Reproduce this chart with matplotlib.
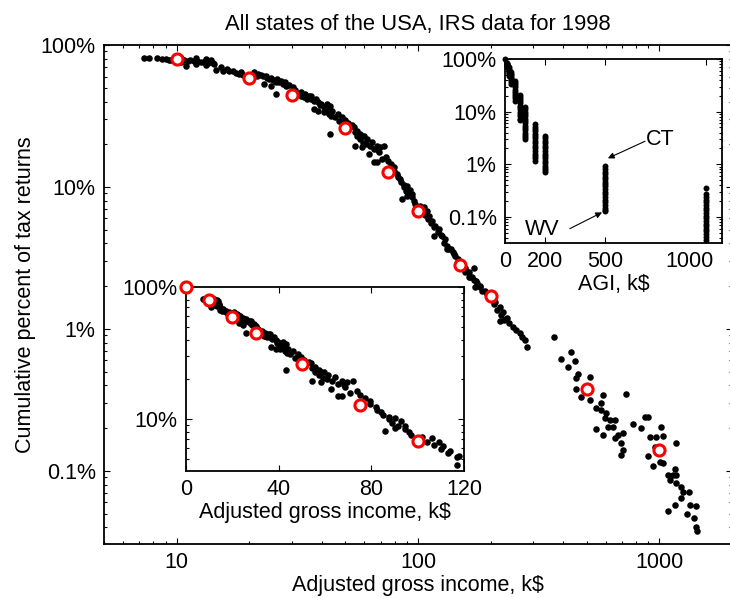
import matplotlib
matplotlib.use("Agg")
import numpy as np
import matplotlib.pyplot as plt
from matplotlib.ticker import FixedLocator, FixedFormatter, LogLocator, NullFormatter
from matplotlib.transforms import ScaledTranslation

plt.rcParams["font.family"] = ["Liberation Sans", "DejaVu Sans"]
plt.rcParams["font.size"] = 15.5

# per-state points: AGI (k$) vs cumulative percent of returns
main_agi = [
    7.3, 7.7, 8.3, 8.7, 9.0, 9.3, 9.5, 10.7, 11.1, 11.4, 11.8, 12.2, 12.6, 13.0, 13.5,
    14.1, 14.3, 10.9, 14.5, 15.5, 16.5, 17.1, 17.6, 18.1, 18.8, 12.0, 13.2, 10.4, 13.9,
    10.4, 12.0, 13.2, 15.2, 16.1, 18.5, 19.2,
    21.8, 22.8, 23.5, 24.2, 25.1, 25.9, 26.6, 27.7, 28.4, 23.0, 24.7, 25.9,
    20.9, 21.5, 22.4, 23.7, 24.7, 26.1, 27.1, 28.2, 29.3, 30.4, 31.0,
    31.9, 32.9, 33.8, 35.5, 36.2, 37.2, 38.7, 39.8, 41.8, 43.0, 36.9, 38.7, 40.6, 42.6,
    32.9, 34.1, 34.8, 36.2, 37.9, 39.1, 40.6, 42.2, 44.2, 46.4, 48.2, 49.6, 51.1, 53.1,
    43.8, 45.1, 46.9, 48.2, 43.0, 52.1, 54.1, 55.7, 57.3, 59.6, 61.3, 54.6, 58.4, 62.5,
    54.6, 58.4, 64.3, 67.5, 69.5, 72.2, 68.8, 65.6, 67.5, 70.8,
    55.7, 57.3, 59.0, 60.7, 63.1, 65.6, 68.1, 73.6, 75.0, 77.2,
    79.4, 81.8, 84.1, 87.5, 90.0, 92.6, 85.8, 90.0, 94.4, 96.2,
    79.4, 82.5, 85.0, 87.5, 89.1, 91.7, 94.4, 97.2,
    106, 109, 111, 114, 118, 122, 126, 130, 117, 135, 139, 143, 157, 163,
    102, 104, 107, 110, 113, 117, 121, 125, 128, 132, 137, 141, 147, 152, 156,
    132, 171, 157, 165, 171, 176, 181, 173, 185,
    162, 168, 174, 180, 190, 194, 203, 209, 218, 224, 233,
    207, 213, 220, 228, 218, 239, 247, 254, 264, 271, 277, 284, 365,
    430, 391, 447, 418, 460, 516, 451, 451, 473, 516, 584, 729, 573, 547, 573, 601, 596,
    625, 656, 613, 643, 547, 708, 675, 584, 656, 695, 708, 695,
    779, 841, 875, 900, 917, 971, 1019, 1040, 1177, 962, 900, 944, 1009, 1040,
    1090, 1144, 1177, 1166, 1112, 1177, 1224, 1259, 1321, 1224, 1166, 1090,
    1346, 1413, 1296, 1387, 1413, 1427,
]
main_pct = [
    81.0, 81.0, 81.0, 79.7, 79.7, 78.3, 78.3, 78.3, 77.1, 78.3, 77.1, 77.1, 75.9, 75.9, 74.6,
    74.6, 73.4, 71.1, 66.7, 65.6, 65.6, 65.6, 63.4, 62.4, 61.4, 81.0, 79.7, 81.0, 78.3,
    75.9, 73.4, 72.3, 69.9, 67.7, 64.5, 60.4,
    62.4, 60.4, 60.4, 57.5, 56.6, 54.8, 54.8, 53.1, 51.4, 53.1, 51.4, 45.1,
    64.5, 60.4, 61.4, 58.5, 58.5, 57.5, 55.7, 54.8, 52.2, 50.5, 48.1,
    45.1, 43.7, 42.9, 43.7, 41.6, 40.3, 39.6, 38.3, 38.3, 37.1, 35.3, 34.2, 33.7, 32.6,
    46.6, 45.1, 41.6, 43.7, 41.6, 37.7, 36.5, 35.3, 34.2, 32.6, 31.0, 29.6, 28.2, 27.2,
    31.6, 31.0, 29.1, 28.6, 23.5, 26.8, 26.4, 24.7, 23.5, 22.8, 21.7, 19.4, 19.1, 17.0,
    24.3, 22.8, 20.7, 19.4, 19.1, 19.4, 17.6, 14.9, 14.9, 15.7,
    22.8, 21.7, 20.3, 20.0, 19.4, 18.5, 18.2, 16.2, 15.2, 14.5,
    13.8, 12.3, 11.3, 10.4, 10.1, 9.6, 8.18, 8.6, 8.87, 7.93,
    12.9, 11.7, 10.8, 9.95, 9.33, 8.87, 8.46, 7.55,
    7.19, 6.74, 6.21, 5.73, 5.28, 5.03, 4.49, 4.28, 4.49, 3.63, 3.46, 3.24, 2.63, 2.34,
    7.31, 6.74, 6.31, 5.92, 5.55, 5.2, 4.79, 4.56, 4.01, 3.82, 3.63, 3.35, 3.09, 2.9, 2.71,
    3.63, 2.71, 2.54, 2.34, 2.23, 2.12, 1.99, 1.96, 1.84,
    2.5, 2.34, 2.16, 2.02, 1.84, 1.75, 1.61, 1.54, 1.42, 1.31, 1.20,
    1.49, 1.37, 1.26, 1.16, 1.13, 1.11, 1.04, 0.99, 0.94, 0.88, 0.841, 0.75, 0.88,
    0.692, 0.618, 0.598, 0.543, 0.485, 0.461, 0.454, 0.38, 0.333, 0.318, 0.344, 0.35, 0.303, 0.279, 0.27, 0.257, 0.237,
    0.23, 0.23, 0.205, 0.205, 0.198, 0.186, 0.18, 0.18, 0.171, 0.158, 0.141, 0.13,
    0.215, 0.201, 0.241, 0.241, 0.174, 0.174, 0.205, 0.177, 0.158, 0.148, 0.128, 0.109, 0.116, 0.114,
    0.094, 0.093, 0.094, 0.103, 0.0865, 0.0824, 0.0773, 0.0711, 0.0711, 0.0646, 0.0577, 0.0523,
    0.0577, 0.0567, 0.0498, 0.0467, 0.0403, 0.0375,
]

# all-state values at each AGI threshold
ring_agi = [0, 10, 20, 30, 50, 75, 100, 150, 200, 500, 1000]
ring_pct = [100, 79.5, 59, 44.5, 26, 12.8, 6.8, 2.8, 1.7, 0.38, 0.14]

# state values stacked at each threshold (linear-AGI inset)
thresholds = [0, 10, 20, 30, 50, 75, 100, 150, 200, 500, 1000]
state_pct = [
    [100],
    [85, 82, 80, 78, 76, 74, 72],
    [70, 66, 63, 60, 57, 54, 51, 48],
    [56, 52, 49, 46, 43, 40, 37, 34],
    [38, 35, 32, 29, 26, 24, 22, 20, 18, 16],
    [21, 19, 17.5, 16, 14.5, 13, 12, 11, 10, 9, 8.2, 7.4, 6.8],
    [12, 11, 10, 9, 8.2, 7.4, 6.7, 6, 5.4, 4.9, 4.4, 4, 3.6, 3.3, 3.0],
    [5.8, 5.2, 4.7, 4.2, 3.8, 3.4, 3.1, 2.8, 2.5, 2.25, 2.0, 1.8, 1.6, 1.45, 1.3, 1.16],
    [3.5, 3.1, 2.8, 2.5, 2.25, 2.0, 1.8, 1.6, 1.45, 1.3, 1.16, 1.04, 0.94, 0.85, 0.77, 0.7],
    [0.92, 0.8, 0.72, 0.65, 0.58, 0.52, 0.47, 0.42, 0.38, 0.34, 0.3, 0.27, 0.24, 0.21,
     0.19, 0.17, 0.15, 0.135, 0.127],
    [0.36, 0.27, 0.24, 0.21, 0.19, 0.17, 0.15, 0.135, 0.12, 0.105, 0.095, 0.085, 0.075,
     0.067, 0.06, 0.053, 0.047, 0.042, 0.037],
]


def pct_label(v):
    return f"{v:g}%"


def style(ax):
    for s in ax.spines.values():
        s.set_linewidth(1.3)
    ax.tick_params(which="both", direction="in", top=True, right=True, width=0.8)
    ax.tick_params(which="major", length=4, pad=6)
    ax.tick_params(which="minor", length=2.2)


def log_y(ax, ticks):
    ax.set_yscale("log")
    ax.yaxis.set_major_locator(FixedLocator(ticks))
    ax.yaxis.set_major_formatter(FixedFormatter([pct_label(t) for t in ticks]))
    ax.yaxis.set_minor_locator(LogLocator(base=10, subs=np.arange(2, 10)))
    ax.yaxis.set_minor_formatter(NullFormatter())


W, H = 730, 598
fig = plt.figure(figsize=(W / 100, H / 100), dpi=100)

# main log-log panel
ax = fig.add_axes([104 / W, 54 / H, 628 / W, 499 / H])
ax.plot(main_agi, main_pct, "o", color="k", ms=4.7, mew=0)
ax.plot(ring_agi[1:], ring_pct[1:], "o", mfc="white", mec="red", ms=8, mew=2.2, zorder=3)
ax.set_xscale("log")
ax.set_xlim(5, 2000)
ax.set_ylim(0.0306, 100)
ax.xaxis.set_major_locator(FixedLocator([10, 100, 1000]))
ax.xaxis.set_major_formatter(FixedFormatter(["10", "100", "1000"]))
ax.xaxis.set_minor_locator(LogLocator(base=10, subs=np.arange(2, 10)))
ax.xaxis.set_minor_formatter(NullFormatter())
log_y(ax, [0.1, 1, 10, 100])
style(ax)
ax.set_xlabel("Adjusted gross income, k\\$", labelpad=1)
ax.set_ylabel("Cumulative percent of tax returns", labelpad=3)
ax.set_title("All states of the USA, IRS data for 1998", fontsize=15.8, pad=11)

# inset: linear AGI axis, columns of states per threshold
ax1 = fig.add_axes([505 / W, (H - 243) / H, 217 / W, 184 / H], zorder=5)
for t, vals in zip(thresholds, state_pct):
    ax1.plot([t] * len(vals), vals, "o", color="k", ms=4.3, mew=0, clip_on=False)
ax1.set_xlim(0, 1080)
ax1.set_ylim(0.032, 100)
ax1.set_xticks([0, 200, 500, 1000])
ax1.set_xticklabels(["0", "200", "500", "1000"])
log_y(ax1, [0.1, 1, 10, 100])
style(ax1)
# keep the last label inside the panel
last = ax1.get_xticklabels()[-1]
last.set_transform(last.get_transform() + ScaledTranslation(-0.16, 0, fig.dpi_scale_trans))
ax1.set_xlabel("AGI, k\\$", labelpad=1)
ax1.annotate("", xy=(512, 1.3), xytext=(697, 2.74),
             arrowprops=dict(arrowstyle="-|>", color="k", lw=0.8, mutation_scale=9,
                             shrinkA=0, shrinkB=0))
ax1.text(771, 3.0, "CT", ha="center", va="center")
ax1.annotate("", xy=(483, 0.122), xytext=(323, 0.06),
             arrowprops=dict(arrowstyle="-|>", color="k", lw=0.8, mutation_scale=9,
                             shrinkA=0, shrinkB=0))
ax1.text(184, 0.058, "WV", ha="center", va="center")

# inset: low-income part on a linear axis
ax2 = fig.add_axes([186 / W, (H - 471) / H, 278 / W, 184 / H], zorder=5)
ax2.plot(main_agi, main_pct, "o", color="k", ms=4.7, mew=0)
low = [i for i, a in enumerate(ring_agi) if a <= 120]
ax2.plot([ring_agi[i] for i in low], [ring_pct[i] for i in low], "o", mfc="white",
         mec="red", ms=8, mew=2.2, zorder=3, clip_on=False)
ax2.set_xlim(0, 120)
ax2.set_ylim(4.04, 100)
ax2.set_xticks([0, 40, 80, 120])
log_y(ax2, [10, 100])
style(ax2)
ax2.set_xlabel("Adjusted gross income, k\\$", labelpad=1)

fig.savefig("out.png", dpi=100)
